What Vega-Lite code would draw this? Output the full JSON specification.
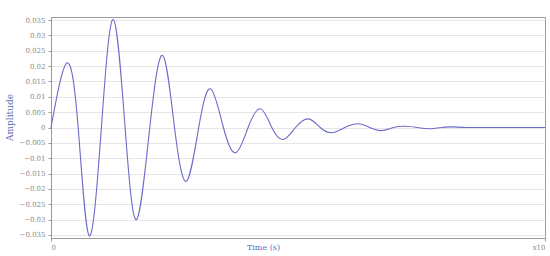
{
  "$schema": "https://vega.github.io/schema/vega-lite/v6.json",
  "width": 494,
  "height": 221,
  "autosize": {"type": "none"},
  "padding": {"left": 51, "top": 17, "right": 5, "bottom": 18},
  "background": "white",
  "config": {
    "view": {"stroke": "#9a9a9a", "strokeWidth": 1},
    "axis": {"labelFont": "DejaVu Serif", "titleFont": "DejaVu Serif"}
  },
  "data": {
    "values": [
      {"t": 0, "v": 0},
      {"t": 0.32, "v": 0.021},
      {"t": 0.55, "v": 0},
      {"t": 0.775, "v": -0.0353},
      {"t": 1.02, "v": 0},
      {"t": 1.26, "v": 0.0352},
      {"t": 1.5, "v": 0},
      {"t": 1.73, "v": -0.030},
      {"t": 2.0, "v": 0},
      {"t": 2.26, "v": 0.0235},
      {"t": 2.5, "v": 0},
      {"t": 2.74, "v": -0.0175},
      {"t": 2.99, "v": 0},
      {"t": 3.23, "v": 0.0126},
      {"t": 3.49, "v": 0},
      {"t": 3.74, "v": -0.0082},
      {"t": 3.99, "v": 0},
      {"t": 4.24, "v": 0.0061},
      {"t": 4.47, "v": 0},
      {"t": 4.7, "v": -0.0039},
      {"t": 4.95, "v": 0},
      {"t": 5.21, "v": 0.0028},
      {"t": 5.45, "v": 0},
      {"t": 5.68, "v": -0.0017},
      {"t": 5.95, "v": 0},
      {"t": 6.22, "v": 0.0012},
      {"t": 6.45, "v": 0},
      {"t": 6.69, "v": -0.001},
      {"t": 6.93, "v": 0},
      {"t": 7.17, "v": 0.0004},
      {"t": 7.42, "v": 0},
      {"t": 7.67, "v": -0.0004},
      {"t": 7.9, "v": 0},
      {"t": 8.11, "v": 0.0002},
      {"t": 8.4, "v": 0},
      {"t": 8.8, "v": 0},
      {"t": 9.3, "v": 0},
      {"t": 10, "v": 0}
    ]
  },
  "mark": {"type": "line", "interpolate": "natural", "color": "#6b6bc8", "strokeWidth": 1.1},
  "encoding": {
    "x": {
      "field": "t",
      "type": "quantitative",
      "scale": {"domain": [0, 10], "nice": false},
      "axis": {
        "values": [0, 10],
        "labelExpr": "datum.value == 10 ? 'x10' : '0'",
        "title": "Time (s)",
        "titleColor": "#5a6fb0",
        "titleFontSize": 8,
        "titleFontWeight": "normal",
        "titleX": 212,
        "titleY": 9,
        "titleBaseline": "middle",
        "labelColor": "#888888",
        "labelFontSize": 7,
        "labelPadding": 2,
        "tickSize": 3,
        "tickColor": "#9a9a9a",
        "domainColor": "#9a9a9a",
        "grid": false
      }
    },
    "y": {
      "field": "v",
      "type": "quantitative",
      "scale": {"domain": [-0.036, 0.036], "nice": false},
      "axis": {
        "values": [-0.035, -0.03, -0.025, -0.02, -0.015, -0.01, -0.005, 0, 0.005, 0.01, 0.015, 0.02, 0.025, 0.03, 0.035],
        "format": "~g",
        "title": "Amplitude",
        "titleColor": "#5a6fb0",
        "titleFontSize": 9,
        "titleFontWeight": "normal",
        "titleX": -37,
        "titleY": 100,
        "labelColor": "#888888",
        "labelFontSize": 7,
        "labelPadding": 3,
        "tickSize": 3,
        "tickColor": "#9a9a9a",
        "domainColor": "#9a9a9a",
        "gridColor": "#e6e6e6",
        "gridWidth": 1
      }
    }
  }
}
